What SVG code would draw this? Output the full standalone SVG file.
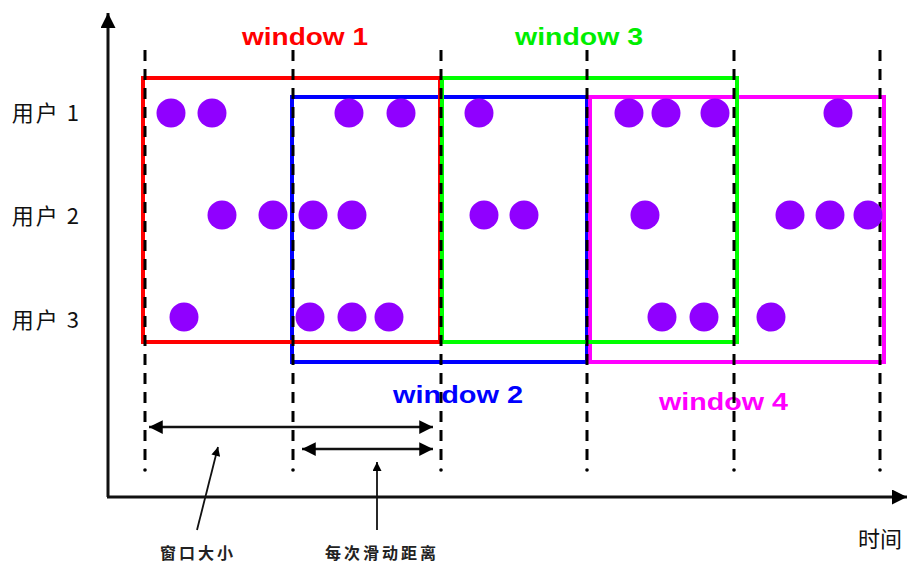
<svg xmlns="http://www.w3.org/2000/svg" width="909" height="563" viewBox="0 0 909 563">
<defs>
<style>
.win{fill:none;stroke-width:4}
.wl{font-family:"Liberation Sans",Arial,sans-serif;font-weight:bold;font-size:24px}
.dot{fill:#9000FF}
.dash{stroke:#000;stroke-width:3;stroke-dasharray:11 8;fill:none}
.row{font-family:"Noto Sans CJK SC","Liberation Sans",sans-serif;font-size:22px;fill:#111;text-anchor:end;letter-spacing:2px}
.cap{font-family:"Noto Sans CJK SC",sans-serif;font-size:16px;fill:#222;font-weight:bold}
.ax{stroke:#111;stroke-width:3;fill:none}
.ln{stroke:#111;stroke-width:2.5;fill:none}
</style>
<marker id="ah" viewBox="0 0 10 10" refX="10" refY="5" markerWidth="7.5" markerHeight="5.5" markerUnits="strokeWidth" orient="auto-start-reverse"><path d="M0,0L10,5L0,10z" fill="#000"/></marker>
<marker id="ax" viewBox="0 0 10 10" refX="10" refY="5" markerWidth="6" markerHeight="5" markerUnits="strokeWidth" orient="auto"><path d="M0,0L10,5L0,10z" fill="#000"/></marker>
<marker id="pa" viewBox="0 0 10 10" refX="10" refY="5" markerWidth="6" markerHeight="5" markerUnits="strokeWidth" orient="auto"><path d="M0,0L10,5L0,10z" fill="#000"/></marker>
</defs>
<rect width="909" height="563" fill="#fff"/>

<g id="axes">
<line class="ax" x1="108" y1="497" x2="108" y2="13" marker-end="url(#ax)"/>
<line class="ax" x1="107" y1="497" x2="907" y2="497" marker-end="url(#ax)"/>
<text x="880" y="547" style="font-family:'Noto Sans CJK SC',sans-serif;font-size:22px;fill:#111;text-anchor:middle">时间</text>
</g>

<g id="row-labels">
<text class="row" x="81" y="121">用户 1</text>
<text class="row" x="81" y="224">用户 2</text>
<text class="row" x="81" y="328">用户 3</text>
</g>

<g id="window2"><rect class="win" x="292" y="97" width="295" height="265" stroke="#0000FF"/><text class="wl" x="393" y="403" fill="#0000FF" textLength="130" lengthAdjust="spacingAndGlyphs">window 2</text></g>
<g id="window4"><rect class="win" x="590" y="97" width="294" height="265" stroke="#FF00FF"/><text class="wl" x="659" y="410" fill="#FF00FF" textLength="129" lengthAdjust="spacingAndGlyphs">window 4</text></g>
<g id="window1"><rect class="win" x="143" y="78" width="297" height="264" stroke="#FF0000"/><text class="wl" x="242" y="45" fill="#FF0000" textLength="126" lengthAdjust="spacingAndGlyphs">window 1</text></g>
<g id="window3"><rect class="win" x="442" y="78" width="295" height="264" stroke="#00FF00"/><text class="wl" x="515" y="45" fill="#00EE00" textLength="128" lengthAdjust="spacingAndGlyphs">window 3</text></g>

<g id="time-marks">
<line class="dash" x1="145" y1="50" x2="145" y2="462"/><circle cx="145" cy="470" r="1.8"/>
<line class="dash" x1="293" y1="50" x2="293" y2="462"/><circle cx="293" cy="470" r="1.8"/>
<line class="dash" x1="441" y1="50" x2="441" y2="462"/><circle cx="441" cy="470" r="1.8"/>
<line class="dash" x1="587" y1="50" x2="587" y2="462"/><circle cx="587" cy="470" r="1.8"/>
<line class="dash" x1="734" y1="50" x2="734" y2="462"/><circle cx="734" cy="470" r="1.8"/>
<line class="dash" x1="880" y1="50" x2="880" y2="462"/><circle cx="880" cy="470" r="1.8"/>
</g>

<g id="events-user1">
<circle class="dot" cx="171" cy="113" r="14.5"/><circle class="dot" cx="212" cy="113" r="14.5"/>
<circle class="dot" cx="349" cy="113" r="14.5"/><circle class="dot" cx="401" cy="113" r="14.5"/>
<circle class="dot" cx="479" cy="113" r="14.5"/><circle class="dot" cx="629" cy="113" r="14.5"/>
<circle class="dot" cx="666" cy="113" r="14.5"/><circle class="dot" cx="715" cy="113" r="14.5"/>
<circle class="dot" cx="838" cy="113" r="14.5"/>
</g>
<g id="events-user2">
<circle class="dot" cx="222" cy="215" r="14.5"/><circle class="dot" cx="273" cy="215" r="14.5"/>
<circle class="dot" cx="313" cy="215" r="14.5"/><circle class="dot" cx="352" cy="215" r="14.5"/>
<circle class="dot" cx="484" cy="215" r="14.5"/><circle class="dot" cx="524" cy="215" r="14.5"/>
<circle class="dot" cx="645" cy="215" r="14.5"/><circle class="dot" cx="790" cy="215" r="14.5"/>
<circle class="dot" cx="830" cy="215" r="14.5"/><circle class="dot" cx="868" cy="215" r="14.5"/>
</g>
<g id="events-user3">
<circle class="dot" cx="184" cy="317" r="14.5"/><circle class="dot" cx="310" cy="317" r="14.5"/>
<circle class="dot" cx="352" cy="317" r="14.5"/><circle class="dot" cx="389" cy="317" r="14.5"/>
<circle class="dot" cx="662" cy="317" r="14.5"/><circle class="dot" cx="704" cy="317" r="14.5"/>
<circle class="dot" cx="771" cy="317" r="14.5"/>
</g>

<g id="connectors">
<line class="ln" x1="149" y1="427" x2="433" y2="427" marker-start="url(#ah)" marker-end="url(#ah)"/>
<line class="ln" x1="302" y1="449" x2="433" y2="449" marker-start="url(#ah)" marker-end="url(#ah)"/>
<line x1="197" y1="530" x2="218" y2="447" stroke="#111" stroke-width="1.8" marker-end="url(#pa)"/>
<line x1="377" y1="530" x2="377" y2="462" stroke="#111" stroke-width="1.8" marker-end="url(#pa)"/>
</g>

<g id="captions">
<text class="cap" x="198" y="559" text-anchor="middle" letter-spacing="3">窗口大小</text>
<text class="cap" x="382" y="559" text-anchor="middle" letter-spacing="3">每次滑动距离</text>
</g>
</svg>
